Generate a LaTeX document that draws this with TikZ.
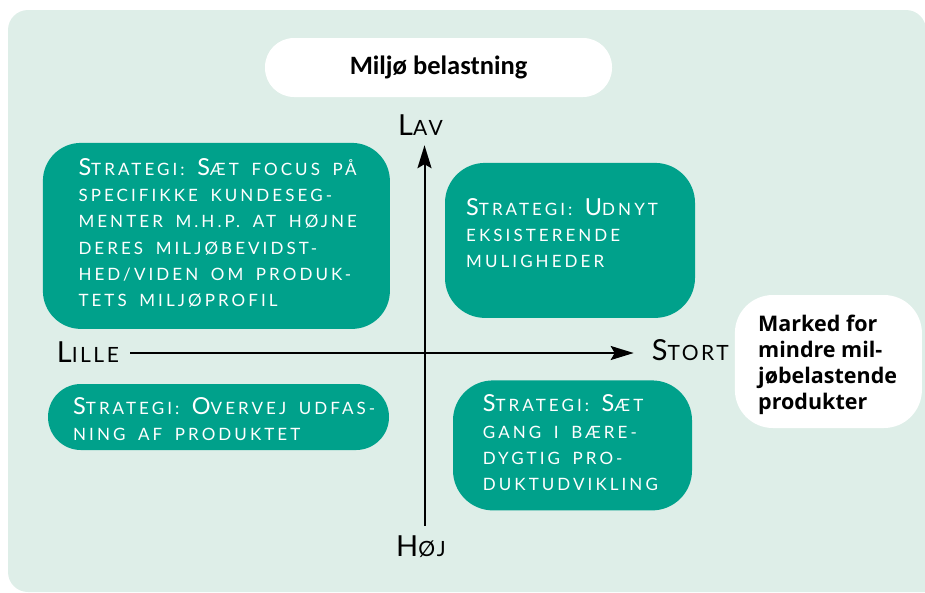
\documentclass[tikz,border=0pt]{standalone}
\usepackage{fontspec}
\setmainfont{Lato}
\newfontfamily\capsfont[LetterSpace=18,WordSpace=1.7]{Lato}
\newfontfamily\axisfont[LetterSpace=12]{Lato}
\newfontfamily\titlefont{Carlito}
\newfontfamily\notefont{Open Sans}
\usetikzlibrary{arrows.meta}
\definecolor{mintbg}{RGB}{222,238,232}
\definecolor{stratgreen}{RGB}{0,161,139}
% enlarged initial capital inside a small-caps style line
\makeatletter
\newcommand\Up[1]{{\fontsize{\fpeval{1.38*\f@size}}{\f@baselineskip}\selectfont#1}}
\makeatother
\tikzset{
  stratbox/.style={fill=stratgreen, draw=none, rectangle, inner sep=0pt},
  strattext/.style={anchor=north west, inner sep=0pt, align=left, text=white,
    font=\capsfont\fontsize{17}{26.3}\selectfont},
  axislabel/.style={anchor=base west, inner sep=0pt, text=black,
    font=\axisfont\fontsize{21}{24}\selectfont},
  axisline/.style={line width=2pt, black},
  whitebox/.style={fill=white, draw=none, rectangle, inner sep=0pt},
}
\begin{document}
\begin{tikzpicture}[x=1pt,y=-1pt]
\useasboundingbox (0,0) rectangle (925,592);
% background panel
\fill[mintbg, rounded corners=20] (926,592) -- (926,10) -- (8,10) -- (8,592) -- (926,592);

% title
\node[whitebox, rounded corners=29, minimum width=347, minimum height=59,
  font=\titlefont\bfseries\fontsize{26.5}{30}\selectfont] (title) at (438.5,67.5) {Miljø belastning};

% strategy boxes
\node[stratbox, rounded corners=38, minimum width=347, minimum height=186] (tl) at (216.4,235.9) {};
\node[strattext] (tltext) at (78.3,156.6) {\strut\Up{S}TRATEGI: \Up{S}ÆT FOCUS PÅ\\
  SPECIFIKKE KUNDESEG-\\MENTER M.H.P. AT HØJNE\\DERES MILJØBEVIDST-\\
  HED/VIDEN OM PRODUK-\\TETS MILJØPROFIL};

\node[stratbox, rounded corners=40, minimum width=250, minimum height=155] (tr) at (570,240.4) {};
\node[strattext] (trtext) at (466,196.6) {\strut\Up{S}TRATEGI: \Up{U}DNYT\\EKSISTERENDE\\MULIGHEDER};

\node[stratbox, rounded corners=32.9, minimum width=341, minimum height=66] (bl) at (218.5,417) {};
\node[strattext] (bltext) at (73,395.6) {\strut\Up{S}TRATEGI: \Up{O}VERVEJ UDFAS-\\NING AF PRODUKTET};

\node[stratbox, rounded corners=40, minimum width=239, minimum height=130] (br) at (572.5,445.4) {};
\node[strattext] (brtext) at (482.7,393.3) {\strut\Up{S}TRATEGI: \Up{S}ÆT\\GANG I BÆRE-\\DYGTIG PRO-\\DUKTUDVIKLING};

% market note
\node[whitebox, rounded corners=38, minimum width=187, minimum height=133] (note) at (828.4,361.5) {};
\node[anchor=north west, inner sep=0pt, align=left,
  font=\notefont\bfseries\fontsize{21.5}{26}\selectfont] (notetext) at (758,313.5)
  {\strut Marked for\\mindre mil-\\jøbelastende\\produkter};

% axes
\coordinate (o) at (424.5,353);
\node[axislabel] (lav) at (398,135) {\Up{L}AV};
\node[axislabel] (hoj) at (396,556.7) {\Up{H}ØJ};
\node[axislabel] (lille) at (56.7,362) {\Up{L}ILLE};
\node[axislabel] (stort) at (651.7,360) {\Up{S}TORT};

\draw[axisline, -{Stealth[length=23pt,width=14pt,inset=4pt]}, shorten <=10pt, shorten >=10pt]
  (o |- hoj.north) -- (o |- lav.south);
\draw[axisline, -{Stealth[length=23pt,width=14pt,inset=4pt]}, shorten <=11pt, shorten >=18pt]
  (lille.east |- o) -- (stort.west |- o);
\end{tikzpicture}
\end{document}
